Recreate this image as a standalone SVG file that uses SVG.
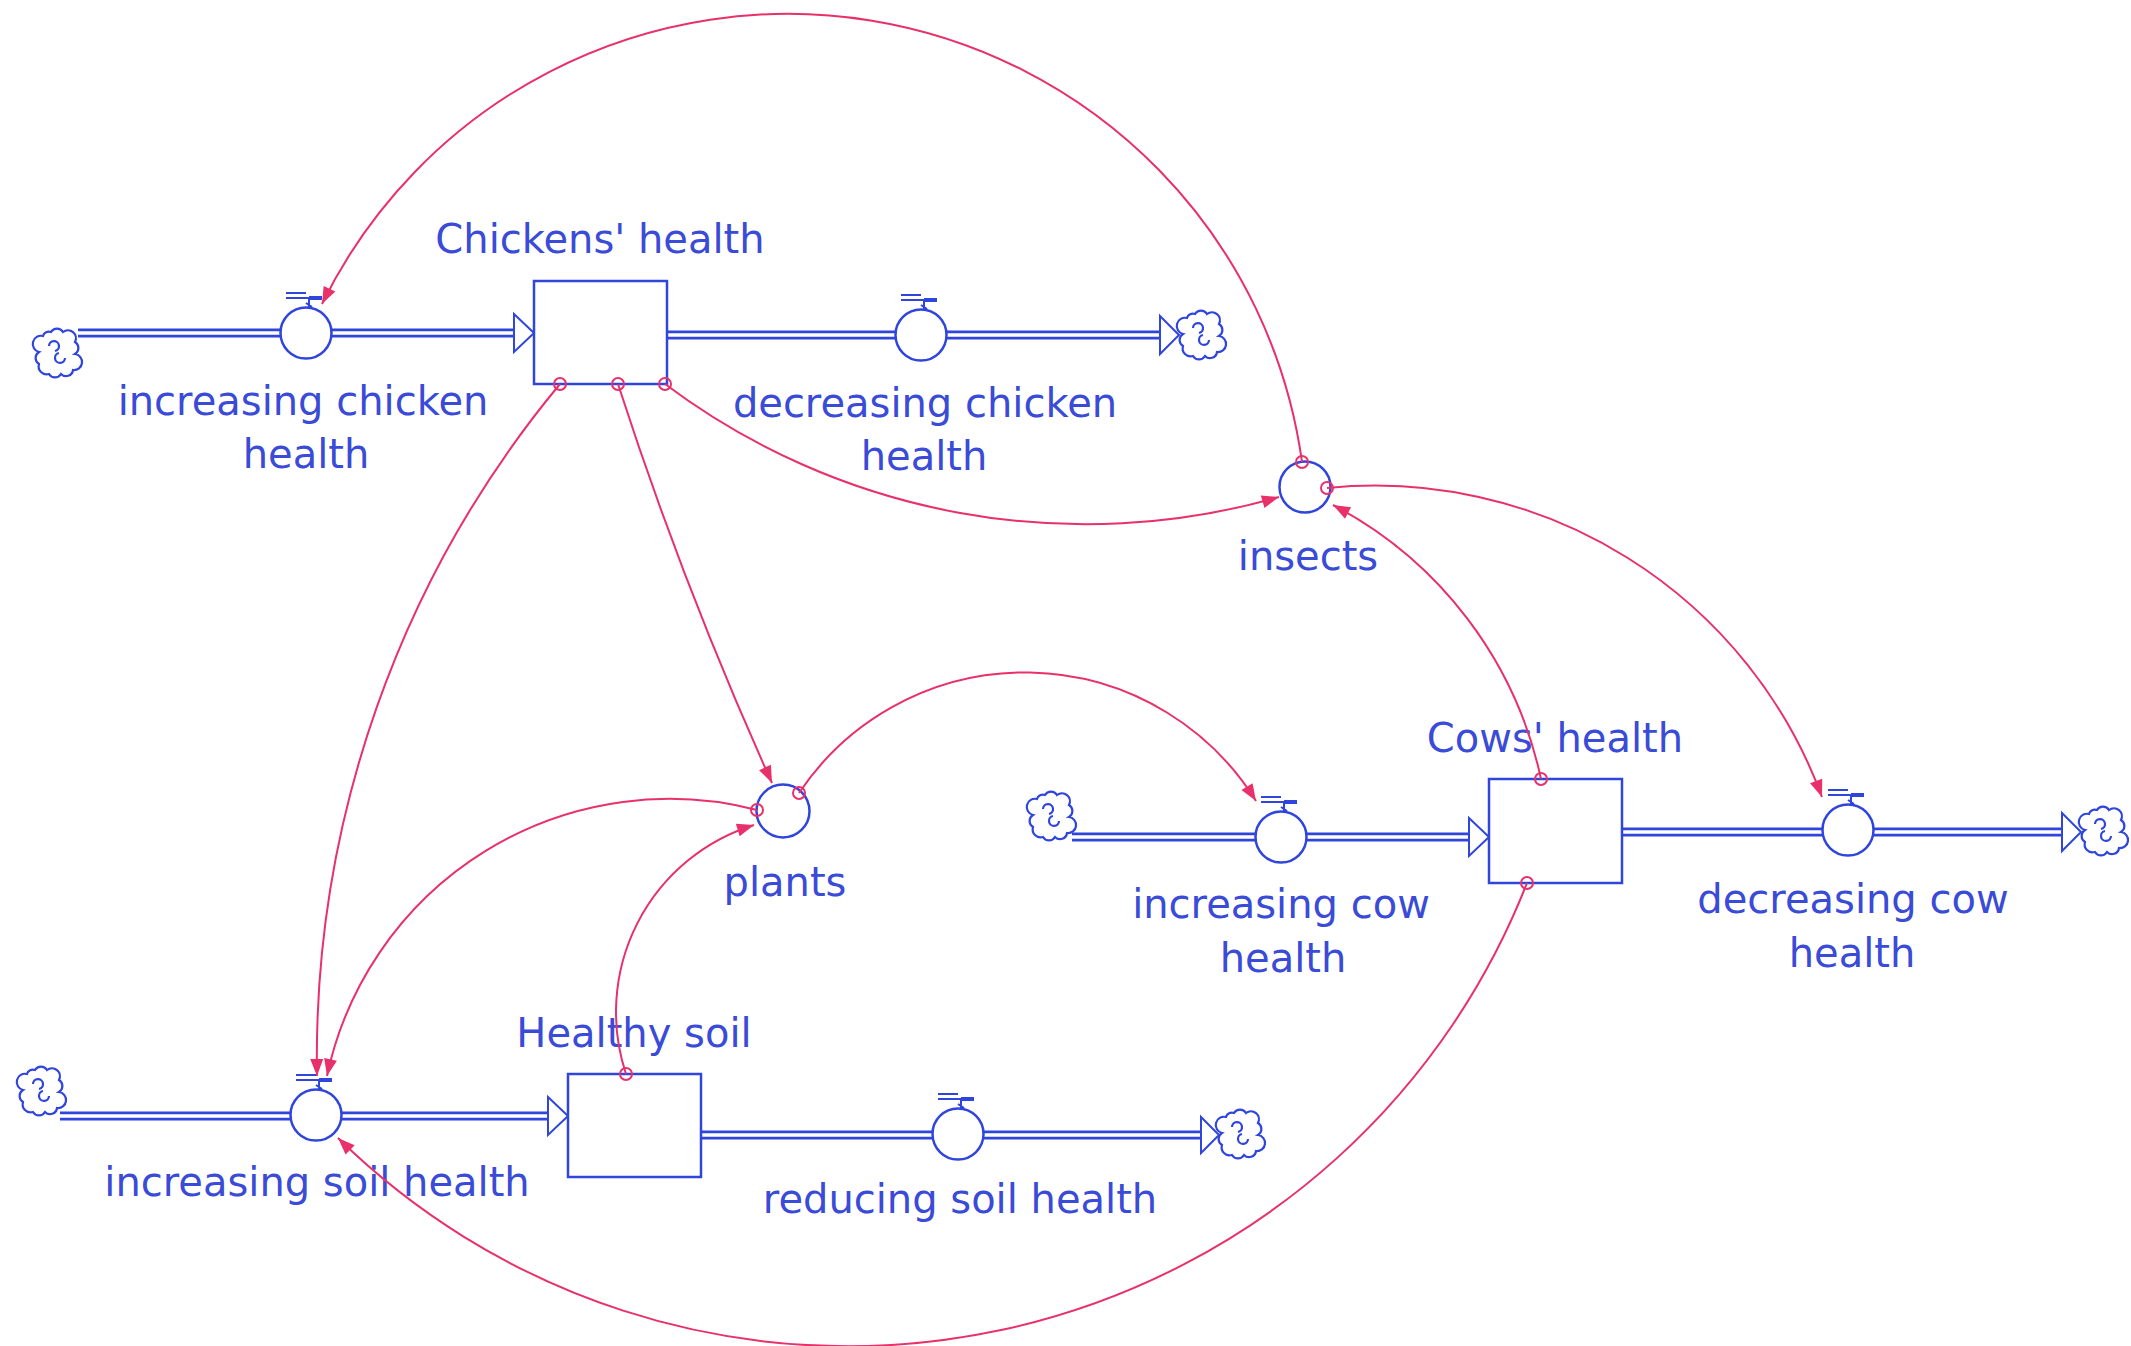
<svg xmlns="http://www.w3.org/2000/svg" xmlns:xlink="http://www.w3.org/1999/xlink" width="2131" height="1346" viewBox="0 0 2131 1346">
  <style>
    .pipe-o { fill: none; stroke: #2f45dc; stroke-width: 9; }
    .pipe-i { fill: none; stroke: #ffffff; stroke-width: 3.5; }
    .stock { fill: #ffffff; stroke: #2f45dc; stroke-width: 2.5; }
    .valve { fill: #ffffff; stroke: #2f45dc; stroke-width: 2.5; }
    .fhead { fill: #ffffff; stroke: #2f45dc; stroke-width: 2; stroke-linejoin: miter; }
    .cloud { fill: #ffffff; stroke: #2f45dc; stroke-width: 2.2; }
    .handle { fill: none; stroke: #2f45dc; stroke-linecap: butt; }
    .lbl { font-family: "DejaVu Sans", Verdana, sans-serif; font-size: 40px; fill: #3a4bd8; text-anchor: middle; }
    .link { fill: none; stroke: #e8306a; stroke-width: 2; marker-end: url(#ah); }
    .org { fill: none; stroke: #e8306a; stroke-width: 2; }
  </style>
  <defs>
    <marker id="ah" markerUnits="userSpaceOnUse" viewBox="-18 -9 20 18" markerWidth="20" markerHeight="18" refX="0" refY="0" orient="auto">
      <path d="M0,0 L-17,-6.5 L-17,6.5 Z" fill="#e8306a"/>
    </marker>
    <g id="cloud">
      <path class="cloud" d="M-6,-20 a7 7 0 0 1 12,0 a8 8 0 0 1 12,10 a7 7 0 0 1 0,12 a8 8 0 0 1 -2,16 a7 7 0 0 1 -12,4 a7 7 0 0 1 -12,0 a8 8 0 0 1 -10,-10 a7 7 0 0 1 0,-12 a8 8 0 0 1 4,-16 a6 6 0 0 1 8,-4 z"/>
      <path class="cloud" fill="none" d="M-8,-6 a5 5 0 1 1 6,5 M8,6 a5 5 0 1 1 -6,-5"/>
    </g>
    <g id="handle" class="handle">
      <path d="M-20,-40 H0 M-20,-35 H4" stroke-width="2"/>
      <path d="M3,-35 H16" stroke-width="4"/>
      <path d="M3,-35 V-25 M0,-30 L6,-26" stroke-width="2"/>
    </g>
  </defs>

  <rect width="2131" height="1346" fill="#ffffff"/>

  <!-- material flows (pipes) -->
  <g id="flows">
    <!-- chicken inflow / outflow -->
    <path class="pipe-o" d="M78,333 H515"/><path class="pipe-i" d="M78,333 H515"/>
    <path class="pipe-o" d="M667,335 H1160"/><path class="pipe-i" d="M667,335 H1160"/>
    <!-- cow inflow / outflow -->
    <path class="pipe-o" d="M1072,837 H1470"/><path class="pipe-i" d="M1072,837 H1470"/>
    <path class="pipe-o" d="M1622,832 H2062"/><path class="pipe-i" d="M1622,832 H2062"/>
    <!-- soil inflow / outflow -->
    <path class="pipe-o" d="M60,1116 H549"/><path class="pipe-i" d="M60,1116 H549"/>
    <path class="pipe-o" d="M701,1135 H1201"/><path class="pipe-i" d="M701,1135 H1201"/>
    <!-- flow heads -->
    <polygon class="fhead" points="514,314 534,333 514,352"/>
    <polygon class="fhead" points="1160,316 1179,335 1160,354"/>
    <polygon class="fhead" points="1469,818 1489,837 1469,856"/>
    <polygon class="fhead" points="2062,813 2081,832 2062,851"/>
    <polygon class="fhead" points="548,1097 568,1116 548,1135"/>
    <polygon class="fhead" points="1201,1117 1219,1135 1201,1153"/>
    <!-- sources and sinks -->
    <use xlink:href="#cloud" href="#cloud" x="57" y="352"/>
    <use xlink:href="#cloud" href="#cloud" x="1201" y="334"/>
    <use xlink:href="#cloud" href="#cloud" x="1051" y="815"/>
    <use xlink:href="#cloud" href="#cloud" x="2103" y="830"/>
    <use xlink:href="#cloud" href="#cloud" x="41" y="1090"/>
    <use xlink:href="#cloud" href="#cloud" x="1240" y="1133"/>
  </g>

  <!-- stocks -->
  <g id="chickens-health">
    <rect class="stock" x="534" y="281" width="133" height="103"/>
    <text class="lbl" x="600" y="253">Chickens' health</text>
  </g>
  <g id="cows-health">
    <rect class="stock" x="1489" y="779" width="133" height="104"/>
    <text class="lbl" x="1555" y="752">Cows' health</text>
  </g>
  <g id="healthy-soil">
    <rect class="stock" x="568" y="1074" width="133" height="103"/>
    <text class="lbl" x="634" y="1047">Healthy soil</text>
  </g>

  <!-- flow valves -->
  <g id="increasing-chicken-health">
    <use xlink:href="#handle" href="#handle" x="306" y="333"/>
    <circle class="valve" cx="306" cy="333" r="25.5"/>
    <text class="lbl" x="303" y="415">increasing chicken</text>
    <text class="lbl" x="306" y="468">health</text>
  </g>
  <g id="decreasing-chicken-health">
    <use xlink:href="#handle" href="#handle" x="921" y="335"/>
    <circle class="valve" cx="921" cy="335" r="25.5"/>
    <text class="lbl" x="925" y="417">decreasing chicken</text>
    <text class="lbl" x="924" y="470">health</text>
  </g>
  <g id="increasing-cow-health">
    <use xlink:href="#handle" href="#handle" x="1281" y="837"/>
    <circle class="valve" cx="1281" cy="837" r="25.5"/>
    <text class="lbl" x="1281" y="918">increasing cow</text>
    <text class="lbl" x="1283" y="972">health</text>
  </g>
  <g id="decreasing-cow-health">
    <use xlink:href="#handle" href="#handle" x="1848" y="830"/>
    <circle class="valve" cx="1848" cy="830" r="25.5"/>
    <text class="lbl" x="1853" y="913">decreasing cow</text>
    <text class="lbl" x="1852" y="967">health</text>
  </g>
  <g id="increasing-soil-health">
    <use xlink:href="#handle" href="#handle" x="316" y="1115"/>
    <circle class="valve" cx="316" cy="1115" r="25.5"/>
    <text class="lbl" x="317" y="1196">increasing soil health</text>
  </g>
  <g id="reducing-soil-health">
    <use xlink:href="#handle" href="#handle" x="958" y="1134"/>
    <circle class="valve" cx="958" cy="1134" r="25.5"/>
    <text class="lbl" x="960" y="1213">reducing soil health</text>
  </g>

  <!-- auxiliaries -->
  <g id="insects">
    <circle class="valve" cx="1305" cy="487" r="25.5"/>
    <text class="lbl" x="1308" y="570">insects</text>
  </g>
  <g id="plants">
    <circle class="valve" cx="783" cy="811" r="26.5"/>
    <text class="lbl" x="785" y="896">plants</text>
  </g>

  <!-- information links -->
  <g id="connectors">
    <path class="link" d="M1302,462 A519,519 0 0 0 322,304"/>
    <path class="link" d="M665,384 A700,700 0 0 0 1279,497"/>
    <path class="link" d="M618,384 A3800,3800 0 0 0 772,783"/>
    <path class="link" d="M560,384 A1055,1055 0 0 0 317,1076"/>
    <path class="link" d="M757,810 A350,350 0 0 0 327,1076"/>
    <path class="link" d="M626,1074 A196,196 0 0 1 754,825"/>
    <path class="link" d="M799,793 A272,272 0 0 1 1256,801"/>
    <path class="link" d="M1541,779 A405,405 0 0 0 1333,505"/>
    <path class="link" d="M1327,488 A476,476 0 0 1 1822,797"/>
    <path class="link" d="M1527,883 A729,729 0 0 1 338,1138"/>
    <!-- link origins -->
    <circle class="org" cx="560" cy="384" r="6"/>
    <circle class="org" cx="618" cy="384" r="6"/>
    <circle class="org" cx="665" cy="384" r="6"/>
    <circle class="org" cx="1302" cy="462" r="6"/>
    <circle class="org" cx="1327" cy="488" r="6"/>
    <circle class="org" cx="1541" cy="779" r="6"/>
    <circle class="org" cx="1527" cy="883" r="6"/>
    <circle class="org" cx="626" cy="1074" r="6"/>
    <circle class="org" cx="757" cy="810" r="6"/>
    <circle class="org" cx="799" cy="793" r="6"/>
  </g>
</svg>
